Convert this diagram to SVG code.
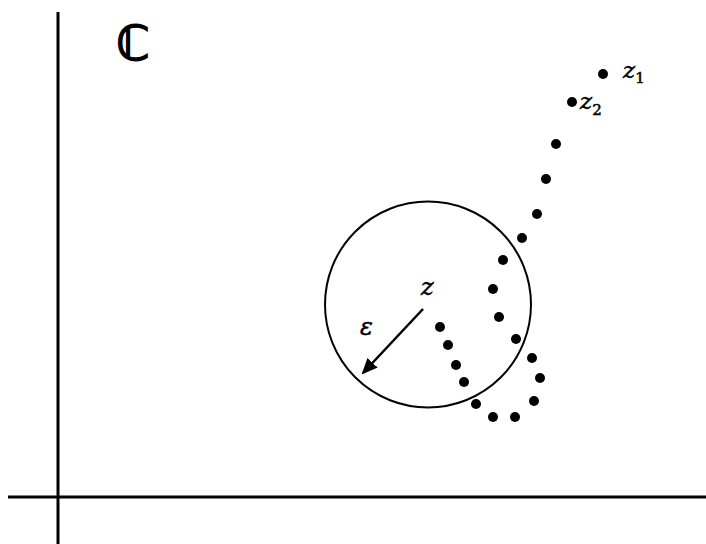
<svg xmlns="http://www.w3.org/2000/svg" width="706" height="544" viewBox="0 0 706 544">
<style>
.ax{stroke:#000;stroke-width:3;fill:none}
.dot{fill:#000}
.m{font-family:"DejaVu Serif","Liberation Serif",serif;font-style:italic;fill:#000;stroke:#000;stroke-width:0.5}
.sub{font-style:normal;font-size:15px}
</style>
<defs>
<marker id="ah" markerWidth="16" markerHeight="14" refX="14" refY="7" orient="auto" markerUnits="userSpaceOnUse" viewBox="0 0 16 14">
<path d="M0,0 L16,7 L0,14 z" fill="#000"/>
</marker>
</defs>
<rect width="706" height="544" fill="#fff"/>
<g id="axes">
<line class="ax" x1="58" y1="12" x2="58" y2="544"/>
<line class="ax" x1="8" y1="497" x2="706" y2="497"/>
</g>
<text x="116" y="60" font-family="DejaVu Sans,sans-serif" font-size="48" fill="#000" stroke="#000" stroke-width="1.6">ℂ</text>
<g id="disk">
<circle cx="428" cy="304.5" r="103" fill="none" stroke="#000" stroke-width="2"/>
<text class="m" x="421" y="295" font-size="24">z</text>
<text class="m" x="360" y="335" font-size="24">ε</text>
</g>
<g id="connectors">
<line x1="423" y1="309" x2="363" y2="373" stroke="#000" stroke-width="2.5" marker-end="url(#ah)"/>
</g>
<g id="sequence">
<circle class="dot" cx="603" cy="74" r="5"/>
<circle class="dot" cx="572" cy="102" r="5"/>
<circle class="dot" cx="556" cy="144" r="5"/>
<circle class="dot" cx="546" cy="179" r="5"/>
<circle class="dot" cx="537" cy="214" r="5"/>
<circle class="dot" cx="522" cy="238" r="5"/>
<circle class="dot" cx="503" cy="260" r="5"/>
<circle class="dot" cx="493" cy="289" r="5"/>
<circle class="dot" cx="499" cy="317" r="5"/>
<circle class="dot" cx="516" cy="339" r="5"/>
<circle class="dot" cx="532" cy="358" r="5"/>
<circle class="dot" cx="540" cy="378" r="5"/>
<circle class="dot" cx="534" cy="401" r="5"/>
<circle class="dot" cx="515" cy="417" r="5"/>
<circle class="dot" cx="493" cy="417" r="5"/>
<circle class="dot" cx="476" cy="404" r="5"/>
<circle class="dot" cx="464" cy="382" r="5"/>
<circle class="dot" cx="456" cy="365" r="5"/>
<circle class="dot" cx="448" cy="345" r="5"/>
<circle class="dot" cx="440" cy="327" r="5"/>
<text class="m" x="623" y="78" font-size="23">z<tspan class="sub" dy="5">1</tspan></text>
<text class="m" x="580" y="109" font-size="23">z<tspan class="sub" dy="6">2</tspan></text>
</g>
</svg>
